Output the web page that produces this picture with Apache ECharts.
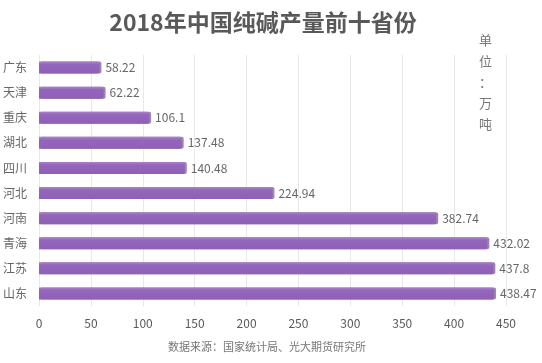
<!DOCTYPE html>
<html><head><meta charset="utf-8">
<script src="https://cdn.jsdelivr.net/npm/echarts@6/dist/echarts.min.js"></script>
<style>html,body{margin:0;padding:0;background:#fff}#c{width:542px;height:363px}</style>
</head><body><div id="c"></div>
<script>
const categories = ['广东','天津','重庆','湖北','四川','河北','河南','青海','江苏','山东'];
const values = [58.22, 62.22, 106.1, 137.48, 140.48, 224.94, 382.74, 432.02, 437.8, 438.47];
const xTicks = [0, 50, 100, 150, 200, 250, 300, 350, 400, 450];
const titleText = '2018年中国纯碱产量前十省份';
const unitText = '单位：万吨';
const sourceText = '数据来源：国家统计局、光大期货研究所';

const font = '"Noto Sans CJK SC", "Noto Sans", sans-serif';
const chart = echarts.init(document.getElementById('c'), null, {renderer: 'canvas'});
chart.setOption({
  backgroundColor: '#fff',
  animation: false,
  title: {
    text: titleText, left: 258, top: 6, textAlign: 'center',
    textStyle: {fontFamily: font, fontSize: 23, fontWeight: 'bold', color: '#595959'}
  },
  graphic: [
    {type: 'text', left: 479, top: 30, style: {text: unitText.split('').join('\n'), font: '13px ' + font, fill: '#777', lineHeight: 21}},
    {type: 'text', left: 168, top: 341, style: {text: sourceText, font: '11px ' + font, fill: '#777'}}
  ],
  grid: {left: 38, right: 36, top: 55, bottom: 57, containLabel: false},
  xAxis: {
    type: 'value', min: xTicks[0], max: xTicks[xTicks.length - 1], interval: 50,
    axisLine: {show: false}, axisTick: {show: false},
    axisLabel: {fontFamily: font, fontSize: 12, color: '#595959', margin: 11},
    splitLine: {lineStyle: {color: '#e8e8e8', width: 1}}
  },
  yAxis: {
    type: 'category', data: categories, inverse: true,
    axisLine: {show: false}, axisTick: {show: false},
    axisLabel: {fontFamily: font, fontSize: 12, color: '#666', margin: 12}
  },
  series: [{
    type: 'bar', data: values, barWidth: 12,
    itemStyle: {
      color: new echarts.graphic.LinearGradient(0, 0, 0, 1, [
        {offset: 0, color: '#a983cb'}, {offset: 0.25, color: '#9466bb'}, {offset: 1, color: '#8f61b6'}
      ]),
      borderRadius: [0, 2, 2, 0],
      shadowColor: 'rgba(90,50,120,0.6)', shadowOffsetX: 2, shadowBlur: 0
    },
    label: {show: true, position: 'right', distance: 6, fontFamily: font, fontSize: 12, color: '#666'}
  }]
});
</script></body></html>
